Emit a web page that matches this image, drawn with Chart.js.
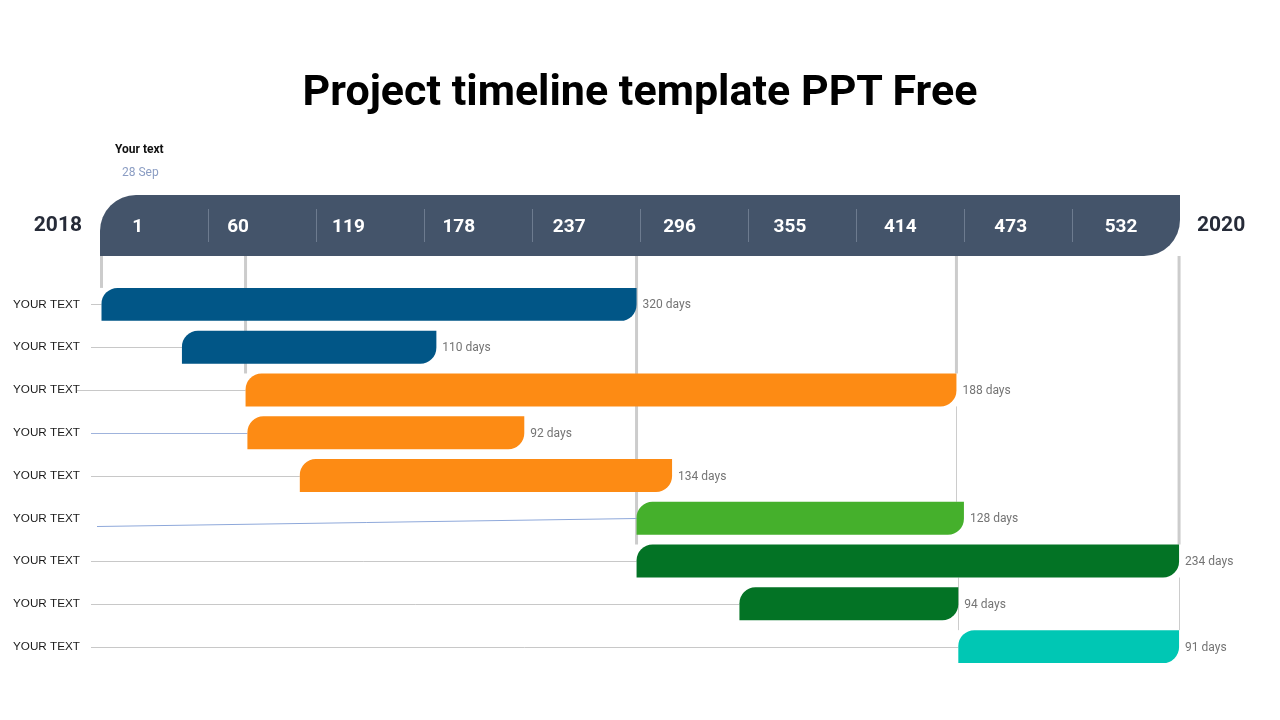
<!DOCTYPE html>
<html>
<head>
<meta charset="utf-8">
<script src="https://cdn.jsdelivr.net/npm/chart.js@4.4.1/dist/chart.umd.min.js"></script>
<style>
    body { margin: 0; background: #fff; }
    .wrap { position: relative; width: 1280px; height: 720px; overflow: hidden; }
    canvas { position: absolute; left: 0; top: 0; }
    .title { position: absolute; left: 0; top: 65px; width: 1280px; text-align: center;
        font: 700 43px Roboto, sans-serif; line-height: 50px; color: #000; }
    .note { position: absolute; font-family: Roboto, sans-serif; font-size: 12px; line-height: 16px; }
</style>
</head>
<body>
<div class="wrap">
    <canvas id="timelineChart" width="1280" height="720"></canvas>
    <div class="title">Project timeline template PPT Free</div>
    <div class="note" style="left:115px; top:141px; font-weight:700; color:#111;">Your text</div>
    <div class="note" style="left:122px; top:164px; color:#8b9dc3;">28 Sep</div>
</div>
<script>
// data
const categories = ['YOUR TEXT', 'YOUR TEXT', 'YOUR TEXT', 'YOUR TEXT', 'YOUR TEXT',
    'YOUR TEXT', 'YOUR TEXT', 'YOUR TEXT', 'YOUR TEXT'];
const barStarts = [-13, 30, 64, 65, 93, 273, 273, 328, 445];
const barEnds = [273, 166, 444, 213, 292, 448, 563, 445, 563];
const dayLabels = ['320 days', '110 days', '188 days', '92 days', '134 days',
    '128 days', '234 days', '94 days', '91 days'];
const tickLabels = [1, 60, 119, 178, 237, 296, 355, 414, 473, 532];
const startYear = '2018';
const endYear = '2020';

const barColors = ['#015687', '#015687', '#fd8b14', '#fd8b14', '#fd8b14',
    '#45b02c', '#037325', '#037325', '#00c7b4'];

// round only top-left and bottom-right corners (leaf shape)
function leafPath(ctx, x, y, w, h, r) {
    ctx.beginPath();
    ctx.moveTo(x + r, y);
    ctx.lineTo(x + w, y);
    ctx.lineTo(x + w, y + h - r);
    ctx.arcTo(x + w, y + h, x + w - r, y + h, r);
    ctx.lineTo(x, y + h);
    ctx.lineTo(x, y + r);
    ctx.arcTo(x, y, x + r, y, r);
    ctx.closePath();
}

const headerPlugin = {
    id: 'header',
    beforeDatasetsDraw(chart) {
        const ctx = chart.ctx;
        const area = chart.chartArea;
        const xs = chart.scales.x;
        const bars = chart.getDatasetMeta(0).data;
        const top = 195, bottom = 256;

        // header band
        ctx.save();
        ctx.fillStyle = '#44546a';
        leafPath(ctx, area.left, top, area.right - area.left, bottom - top, 36);
        ctx.fill();

        // cell separators
        const cellW = (area.right - area.left) / tickLabels.length;
        ctx.strokeStyle = '#6d7b8f';
        ctx.lineWidth = 1;
        for (let i = 1; i < tickLabels.length; i++) {
            const x = Math.round(area.left + i * cellW) + 0.5;
            ctx.beginPath();
            ctx.moveTo(x, 209);
            ctx.lineTo(x, 242);
            ctx.stroke();
        }

        // tick labels
        ctx.fillStyle = '#ffffff';
        ctx.font = '700 19px Roboto';
        ctx.textAlign = 'center';
        ctx.textBaseline = 'middle';
        tickLabels.forEach((t, i) => {
            // the first label sits a little right of its tick in the original
            const shift = i === 0 ? 10 : 0;
            ctx.fillText(String(t), xs.getPixelForValue(t) + shift, 227);
        });

        // years
        ctx.fillStyle = '#262b38';
        ctx.font = '700 21px Roboto';
        ctx.textAlign = 'right';
        ctx.fillText(startYear, 82, 226);
        ctx.textAlign = 'left';
        ctx.fillText(endYear, 1197, 226);

        const topOf = i => bars[i].y - bars[i].height / 2;
        const bottomOf = i => bars[i].y + bars[i].height / 2;
        const startX = i => xs.getPixelForValue(barStarts[i]);
        const endX = i => xs.getPixelForValue(barEnds[i]);

        // thick guides from the header down to a bar
        ctx.strokeStyle = '#cccccc';
        ctx.lineWidth = 3;
        [[startX(0), 0], [startX(2), 2], [endX(0), 6], [endX(2), 2], [endX(6), 6]].forEach(([x, row]) => {
            ctx.beginPath();
            ctx.moveTo(x, bottom);
            ctx.lineTo(x, topOf(row));
            ctx.stroke();
        });

        // thin guides between bars
        ctx.lineWidth = 1;
        [[endX(2), 2, 5], [startX(8), 6, 8], [endX(6), 6, 8]].forEach(([x, r1, r2]) => {
            ctx.beginPath();
            ctx.moveTo(Math.round(x) + 0.5, bottomOf(r1));
            ctx.lineTo(Math.round(x) + 0.5, topOf(r2));
            ctx.stroke();
        });

        // connectors from labels to bars
        bars.forEach((bar, i) => {
            const y = Math.round(bar.y) + 0.5;
            ctx.beginPath();
            if (i === 5) {
                ctx.strokeStyle = '#8ea8da';
                ctx.moveTo(97, y + 8);
            } else {
                ctx.strokeStyle = i === 3 ? '#9fb3dc' : '#c8c8c8';
                ctx.moveTo(i === 2 ? 77 : 91, y);
            }
            ctx.lineTo(startX(i), y);
            ctx.stroke();
        });
        ctx.restore();
    },
    afterDatasetsDraw(chart) {
        const ctx = chart.ctx;
        const bars = chart.getDatasetMeta(0).data;
        ctx.save();
        ctx.fillStyle = '#747474';
        ctx.font = '12px Roboto';
        ctx.textAlign = 'left';
        ctx.textBaseline = 'middle';
        bars.forEach((bar, i) => {
            ctx.fillText(dayLabels[i], bar.x + 6, bar.y + 1);
        });
        ctx.restore();
    }
};

const ctx = document.getElementById('timelineChart').getContext('2d');
const timelineChart = new Chart(ctx, {
    type: 'bar',
    data: {
        labels: categories,
        datasets: [{
            data: barStarts.map((s, i) => [s, barEnds[i]]),
            backgroundColor: barColors,
            borderSkipped: false,
            borderRadius: { topLeft: 16, topRight: 0, bottomLeft: 0, bottomRight: 16 },
            barPercentage: 0.77,
            categoryPercentage: 1
        }]
    },
    options: {
        indexAxis: 'y',
        responsive: false,
        animation: false,
        layout: { padding: { top: 283, bottom: 52, left: 13, right: 100 } },
        plugins: {
            legend: { display: false },
            tooltip: { enabled: false }
        },
        scales: {
            x: {
                display: false,
                min: -13.8,
                max: 563.5
            },
            y: {
                grid: { display: false },
                border: { display: false },
                afterFit(scale) { scale.width = 87; },
                ticks: {
                    crossAlign: 'far',
                    color: '#1a1a1a',
                    font: { family: 'Liberation Sans', size: 11.7 }
                }
            }
        }
    },
    plugins: [headerPlugin]
});
</script>
</body>
</html>
